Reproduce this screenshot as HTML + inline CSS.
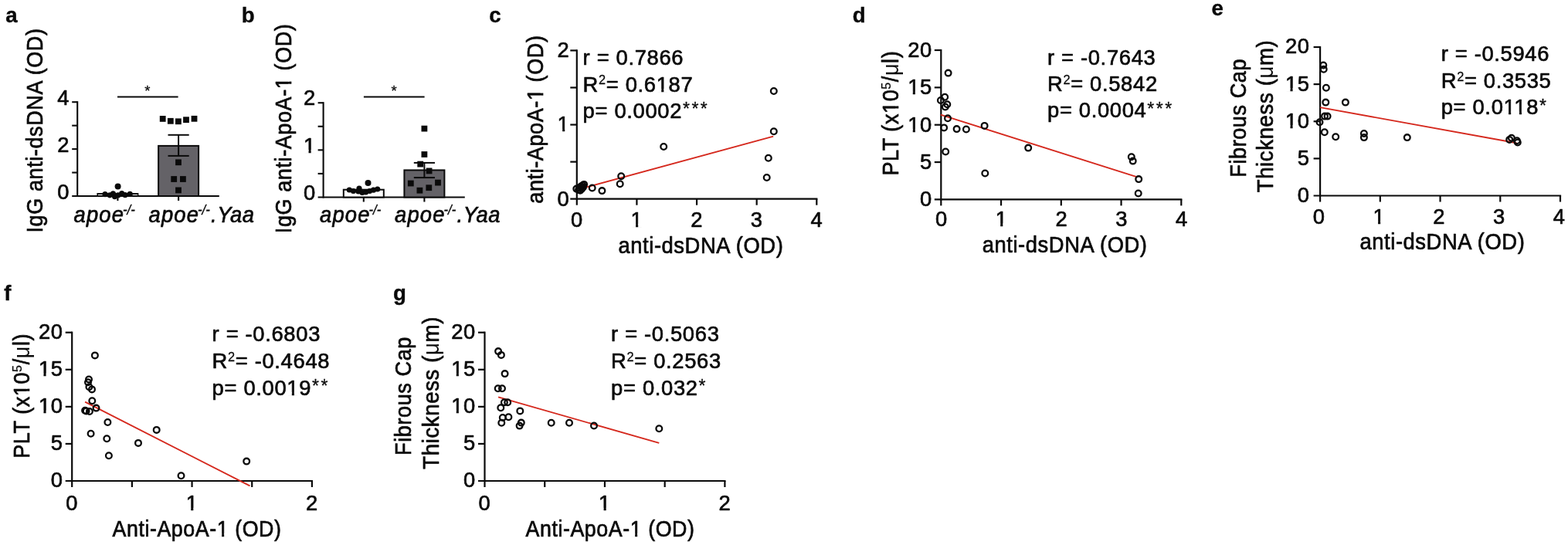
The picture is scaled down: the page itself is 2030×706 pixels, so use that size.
<!DOCTYPE html>
<html lang="en">
<head>
<meta charset="utf-8">
<title>Figure</title>
<style>
html,body{margin:0;padding:0;background:#fff;}
body{width:2030px;height:706px;overflow:hidden;}
svg{display:block;}
svg text{font-family:'Liberation Sans', sans-serif;font-size:28.5px;fill:#0a0a0a;white-space:pre;letter-spacing:0.6px;stroke:#0a0a0a;stroke-width:0.7px;stroke-linejoin:round;}
</style>
</head>
<body>
<svg width="2030" height="706" viewBox="0 0 2030 706">
<rect x="0" y="0" width="2030" height="706" fill="#ffffff"/>
<text transform="translate(7.20 29.20) scale(0.97 0.98)" style="font-weight:bold;letter-spacing:0.0px;stroke-width:0.4px">a</text>
<text transform="translate(312.70 29.20) scale(0.97 0.98)" style="font-weight:bold;letter-spacing:0.0px;stroke-width:0.4px">b</text>
<text transform="translate(633.20 29.00) scale(0.97 0.98)" style="font-weight:bold;letter-spacing:0.0px;stroke-width:0.4px">c</text>
<text transform="translate(1103.70 29.20) scale(0.97 0.98)" style="font-weight:bold;letter-spacing:0.0px;stroke-width:0.4px">d</text>
<text transform="translate(1568.40 20.10) scale(0.97 0.98)" style="font-weight:bold;letter-spacing:0.0px;stroke-width:0.4px">e</text>
<text transform="translate(5.20 388.50) scale(0.97 0.98)" style="font-weight:bold;letter-spacing:0.0px;stroke-width:0.4px">f</text>
<text transform="translate(508.90 388.50) scale(0.97 0.98)" style="font-weight:bold;letter-spacing:0.0px;stroke-width:0.4px">g</text>
<line x1="100.20" y1="131.15" x2="100.20" y2="255.05" stroke="#0a0a0a" stroke-width="2.1"/>
<line x1="93.20" y1="254.00" x2="283.80" y2="254.00" stroke="#0a0a0a" stroke-width="2.1"/>
<line x1="93.20" y1="132.20" x2="100.20" y2="132.20" stroke="#0a0a0a" stroke-width="2.1"/>
<line x1="93.20" y1="162.65" x2="100.20" y2="162.65" stroke="#0a0a0a" stroke-width="2.1"/>
<line x1="93.20" y1="193.10" x2="100.20" y2="193.10" stroke="#0a0a0a" stroke-width="2.1"/>
<line x1="93.20" y1="223.55" x2="100.20" y2="223.55" stroke="#0a0a0a" stroke-width="2.1"/>
<text transform="translate(90.00 135.80) scale(0.96 1.0)" text-anchor="end">4</text>
<text transform="translate(90.00 196.70) scale(0.96 1.0)" text-anchor="end">2</text>
<text transform="translate(90.00 257.60) scale(0.96 1.0)" text-anchor="end">0</text>
<line x1="152.40" y1="254.00" x2="152.40" y2="260.00" stroke="#0a0a0a" stroke-width="2.1"/>
<line x1="231.10" y1="254.00" x2="231.10" y2="260.00" stroke="#0a0a0a" stroke-width="2.1"/>
<rect x="126.40" y="251.00" width="52.0" height="3.00" fill="#fff" stroke="#0a0a0a" stroke-width="2"/>
<rect x="205.10" y="188.90" width="52.0" height="65.10" fill="#646267" stroke="#0a0a0a" stroke-width="2"/>
<line x1="231.10" y1="174.80" x2="231.10" y2="201.90" stroke="#0a0a0a" stroke-width="2"/>
<line x1="217.50" y1="174.80" x2="244.70" y2="174.80" stroke="#0a0a0a" stroke-width="2"/>
<line x1="217.50" y1="201.90" x2="244.70" y2="201.90" stroke="#0a0a0a" stroke-width="2"/>
<circle cx="152.60" cy="241.40" r="4.0" fill="#0a0a0a"/>
<circle cx="136.00" cy="251.60" r="3.6" fill="#0a0a0a"/>
<circle cx="142.10" cy="252.80" r="3.6" fill="#0a0a0a"/>
<circle cx="146.40" cy="250.90" r="3.6" fill="#0a0a0a"/>
<circle cx="148.50" cy="254.60" r="3.6" fill="#0a0a0a"/>
<circle cx="152.80" cy="252.90" r="3.6" fill="#0a0a0a"/>
<circle cx="157.70" cy="250.60" r="3.6" fill="#0a0a0a"/>
<circle cx="162.00" cy="252.60" r="3.6" fill="#0a0a0a"/>
<circle cx="168.20" cy="251.40" r="3.6" fill="#0a0a0a"/>
<rect x="206.80" y="150.00" width="7.8" height="7.8" fill="#0a0a0a"/>
<rect x="216.90" y="152.90" width="7.8" height="7.8" fill="#0a0a0a"/>
<rect x="227.00" y="153.40" width="7.8" height="7.8" fill="#0a0a0a"/>
<rect x="237.10" y="151.30" width="7.8" height="7.8" fill="#0a0a0a"/>
<rect x="247.60" y="149.90" width="7.8" height="7.8" fill="#0a0a0a"/>
<rect x="227.10" y="206.40" width="7.8" height="7.8" fill="#0a0a0a"/>
<rect x="221.30" y="228.10" width="7.8" height="7.8" fill="#0a0a0a"/>
<rect x="233.00" y="228.10" width="7.8" height="7.8" fill="#0a0a0a"/>
<rect x="227.10" y="242.50" width="7.8" height="7.8" fill="#0a0a0a"/>
<line x1="152.00" y1="125.60" x2="230.60" y2="125.60" stroke="#0a0a0a" stroke-width="2"/>
<text transform="translate(190.80 124.00)" text-anchor="middle" style="font-size:18.5px;letter-spacing:0;stroke-width:0.3px">*</text>
<text transform="translate(54.90 301.50) rotate(-90) scale(0.95 1.01)">IgG anti-dsDNA (OD)</text>
<text transform="translate(95.50 288.30) scale(0.96 1.04)" style="font-style:italic"><tspan style="letter-spacing:1.25px">apoe</tspan><tspan dx="-2.3" dy="-10" style="font-size:17.5px;letter-spacing:0;stroke-width:0.4px">-/-</tspan></text>
<text transform="translate(192.50 288.30) scale(0.96 1.04)" style="font-style:italic"><tspan style="letter-spacing:1.25px">apoe</tspan><tspan dx="-2.3" dy="-10" style="font-size:17.5px;letter-spacing:0;stroke-width:0.4px">-/-</tspan><tspan dy="10" dx="1.3">.Yaa</tspan></text>
<line x1="418.60" y1="132.15" x2="418.60" y2="256.55" stroke="#0a0a0a" stroke-width="2.1"/>
<line x1="411.60" y1="255.50" x2="601.80" y2="255.50" stroke="#0a0a0a" stroke-width="2.1"/>
<line x1="411.60" y1="133.20" x2="418.60" y2="133.20" stroke="#0a0a0a" stroke-width="2.1"/>
<line x1="411.60" y1="163.77" x2="418.60" y2="163.77" stroke="#0a0a0a" stroke-width="2.1"/>
<line x1="411.60" y1="194.35" x2="418.60" y2="194.35" stroke="#0a0a0a" stroke-width="2.1"/>
<line x1="411.60" y1="224.93" x2="418.60" y2="224.93" stroke="#0a0a0a" stroke-width="2.1"/>
<text transform="translate(408.80 136.40) scale(0.96 1.0)" text-anchor="end">2</text>
<text transform="translate(408.80 197.55) scale(0.96 1.0)" text-anchor="end">1</text>
<g transform="translate(408.80 197.55) scale(0.96 1.0)" fill="#fff"><rect x="-15.63" y="-3.48" width="5.98" height="4.83"/><rect x="-6.40" y="-3.48" width="5.75" height="4.83"/></g>
<text transform="translate(408.80 258.70) scale(0.96 1.0)" text-anchor="end">0</text>
<line x1="470.80" y1="255.50" x2="470.80" y2="261.50" stroke="#0a0a0a" stroke-width="2.1"/>
<line x1="549.40" y1="255.50" x2="549.40" y2="261.50" stroke="#0a0a0a" stroke-width="2.1"/>
<rect x="444.80" y="245.70" width="52.0" height="9.80" fill="#fff" stroke="#0a0a0a" stroke-width="2"/>
<rect x="523.40" y="220.40" width="52.0" height="35.10" fill="#646267" stroke="#0a0a0a" stroke-width="2"/>
<line x1="549.40" y1="210.90" x2="549.40" y2="230.10" stroke="#0a0a0a" stroke-width="2"/>
<line x1="535.80" y1="210.90" x2="563.00" y2="210.90" stroke="#0a0a0a" stroke-width="2"/>
<line x1="535.80" y1="230.10" x2="563.00" y2="230.10" stroke="#0a0a0a" stroke-width="2"/>
<circle cx="476.50" cy="237.00" r="4.0" fill="#0a0a0a"/>
<circle cx="452.30" cy="246.00" r="3.6" fill="#0a0a0a"/>
<circle cx="457.50" cy="247.50" r="3.6" fill="#0a0a0a"/>
<circle cx="465.00" cy="244.20" r="3.6" fill="#0a0a0a"/>
<circle cx="464.00" cy="248.00" r="3.6" fill="#0a0a0a"/>
<circle cx="469.00" cy="249.50" r="3.6" fill="#0a0a0a"/>
<circle cx="473.50" cy="249.00" r="3.6" fill="#0a0a0a"/>
<circle cx="478.50" cy="247.50" r="3.6" fill="#0a0a0a"/>
<circle cx="483.50" cy="246.20" r="3.6" fill="#0a0a0a"/>
<circle cx="488.70" cy="245.00" r="3.6" fill="#0a0a0a"/>
<rect x="545.50" y="162.70" width="7.8" height="7.8" fill="#0a0a0a"/>
<rect x="545.50" y="196.10" width="7.8" height="7.8" fill="#0a0a0a"/>
<rect x="540.30" y="208.70" width="7.8" height="7.8" fill="#0a0a0a"/>
<rect x="551.70" y="217.50" width="7.8" height="7.8" fill="#0a0a0a"/>
<rect x="527.90" y="233.60" width="7.8" height="7.8" fill="#0a0a0a"/>
<rect x="563.10" y="232.70" width="7.8" height="7.8" fill="#0a0a0a"/>
<rect x="551.40" y="239.30" width="7.8" height="7.8" fill="#0a0a0a"/>
<rect x="539.50" y="242.80" width="7.8" height="7.8" fill="#0a0a0a"/>
<line x1="470.90" y1="125.50" x2="549.60" y2="125.50" stroke="#0a0a0a" stroke-width="2"/>
<text transform="translate(510.00 124.30)" text-anchor="middle" style="font-size:18.5px;letter-spacing:0;stroke-width:0.3px">*</text>
<text transform="translate(376.80 302.20) rotate(-90) scale(0.95 1.01)">IgG anti-ApoA-1 (OD)</text>
<g transform="translate(376.80 302.20) rotate(-90) scale(0.95 1.01)" fill="#fff"><rect x="197.68" y="-3.48" width="5.98" height="4.83"/><rect x="206.92" y="-3.48" width="5.75" height="4.83"/></g>
<text transform="translate(414.00 288.30) scale(0.96 1.04)" style="font-style:italic"><tspan style="letter-spacing:1.25px">apoe</tspan><tspan dx="-2.3" dy="-10" style="font-size:17.5px;letter-spacing:0;stroke-width:0.4px">-/-</tspan></text>
<text transform="translate(511.00 288.30) scale(0.96 1.04)" style="font-style:italic"><tspan style="letter-spacing:1.25px">apoe</tspan><tspan dx="-2.3" dy="-10" style="font-size:17.5px;letter-spacing:0;stroke-width:0.4px">-/-</tspan><tspan dy="10" dx="1.3">.Yaa</tspan></text>
<line x1="746.80" y1="64.30" x2="746.80" y2="258.80" stroke="#0a0a0a" stroke-width="2.2"/>
<line x1="738.30" y1="257.70" x2="1058.40" y2="257.70" stroke="#0a0a0a" stroke-width="2.2"/>
<line x1="738.30" y1="65.40" x2="746.80" y2="65.40" stroke="#0a0a0a" stroke-width="2.2"/>
<line x1="738.30" y1="113.47" x2="746.80" y2="113.47" stroke="#0a0a0a" stroke-width="2.2"/>
<line x1="738.30" y1="161.55" x2="746.80" y2="161.55" stroke="#0a0a0a" stroke-width="2.2"/>
<line x1="738.30" y1="209.62" x2="746.80" y2="209.62" stroke="#0a0a0a" stroke-width="2.2"/>
<line x1="746.80" y1="257.70" x2="746.80" y2="265.70" stroke="#0a0a0a" stroke-width="2.2"/>
<line x1="824.42" y1="257.70" x2="824.42" y2="265.70" stroke="#0a0a0a" stroke-width="2.2"/>
<line x1="902.05" y1="257.70" x2="902.05" y2="265.70" stroke="#0a0a0a" stroke-width="2.2"/>
<line x1="979.67" y1="257.70" x2="979.67" y2="265.70" stroke="#0a0a0a" stroke-width="2.2"/>
<line x1="1057.30" y1="257.70" x2="1057.30" y2="265.70" stroke="#0a0a0a" stroke-width="2.2"/>
<text transform="translate(737.40 74.30) scale(0.96 1.0)" text-anchor="end">2</text>
<text transform="translate(737.40 170.45) scale(0.96 1.0)" text-anchor="end">1</text>
<g transform="translate(737.40 170.45) scale(0.96 1.0)" fill="#fff"><rect x="-15.63" y="-3.48" width="5.98" height="4.83"/><rect x="-6.40" y="-3.48" width="5.75" height="4.83"/></g>
<text transform="translate(737.40 266.60) scale(0.96 1.0)" text-anchor="end">0</text>
<text transform="translate(746.80 293.50) scale(0.96 1.0)" text-anchor="middle">0</text>
<text transform="translate(824.42 293.50) scale(0.96 1.0)" text-anchor="middle">1</text>
<g transform="translate(824.42 293.50) scale(0.96 1.0)" fill="#fff"><rect x="-7.40" y="-3.48" width="5.98" height="4.83"/><rect x="1.83" y="-3.48" width="5.75" height="4.83"/></g>
<text transform="translate(902.05 293.50) scale(0.96 1.0)" text-anchor="middle">2</text>
<text transform="translate(979.67 293.50) scale(0.96 1.0)" text-anchor="middle">3</text>
<text transform="translate(1057.30 293.50) scale(0.96 1.0)" text-anchor="middle">4</text>
<line x1="759.00" y1="242.50" x2="1001.20" y2="176.60" stroke="#d5281d" stroke-width="1.9"/>
<circle cx="1001.80" cy="118.00" r="3.85" fill="none" stroke="#0a0a0a" stroke-width="2.3"/>
<circle cx="1001.80" cy="170.30" r="3.85" fill="none" stroke="#0a0a0a" stroke-width="2.3"/>
<circle cx="859.20" cy="190.00" r="3.85" fill="none" stroke="#0a0a0a" stroke-width="2.3"/>
<circle cx="994.80" cy="204.80" r="3.85" fill="none" stroke="#0a0a0a" stroke-width="2.3"/>
<circle cx="992.70" cy="230.00" r="3.85" fill="none" stroke="#0a0a0a" stroke-width="2.3"/>
<circle cx="804.20" cy="228.30" r="3.85" fill="none" stroke="#0a0a0a" stroke-width="2.3"/>
<circle cx="802.70" cy="238.30" r="3.85" fill="none" stroke="#0a0a0a" stroke-width="2.3"/>
<circle cx="766.70" cy="243.50" r="3.85" fill="none" stroke="#0a0a0a" stroke-width="2.3"/>
<circle cx="779.40" cy="247.10" r="3.85" fill="none" stroke="#0a0a0a" stroke-width="2.3"/>
<circle cx="746.30" cy="244.60" r="3.85" fill="none" stroke="#0a0a0a" stroke-width="2.3"/>
<circle cx="750.10" cy="243.50" r="3.85" fill="none" stroke="#0a0a0a" stroke-width="2.3"/>
<circle cx="752.20" cy="241.40" r="3.85" fill="none" stroke="#0a0a0a" stroke-width="2.3"/>
<circle cx="754.40" cy="240.00" r="3.85" fill="none" stroke="#0a0a0a" stroke-width="2.3"/>
<circle cx="756.10" cy="238.90" r="3.85" fill="none" stroke="#0a0a0a" stroke-width="2.3"/>
<circle cx="751.20" cy="246.70" r="3.85" fill="none" stroke="#0a0a0a" stroke-width="2.3"/>
<circle cx="753.30" cy="244.60" r="3.85" fill="none" stroke="#0a0a0a" stroke-width="2.3"/>
<circle cx="755.00" cy="242.50" r="3.85" fill="none" stroke="#0a0a0a" stroke-width="2.3"/>
<circle cx="749.00" cy="246.00" r="3.85" fill="none" stroke="#0a0a0a" stroke-width="2.3"/>
<text transform="translate(754.60 83.50) scale(0.96 1.0)" style="letter-spacing:0.7px">r = 0.7866</text>
<text transform="translate(754.60 118.50) scale(0.96 1.0)" style="letter-spacing:0.7px">R<tspan dy="-9.5" style="font-size:17.0px;stroke-width:0.25px">2</tspan><tspan dy="9.5">= 0.6187</tspan></text>
<g transform="translate(754.60 118.50) scale(0.96 1.0)" fill="#fff"><rect x="99.89" y="-3.48" width="5.98" height="4.83"/><rect x="109.12" y="-3.48" width="5.75" height="4.83"/></g>
<text transform="translate(754.60 152.90) scale(0.96 1.0)" style="letter-spacing:0.7px">p= 0.0002<tspan dx="0.9" dy="-3.5" style="font-size:24px;letter-spacing:2.6px;stroke-width:0.3px">***</tspan></text>
<text transform="translate(907.40 327.70) scale(0.96 1.04)" text-anchor="middle">anti-dsDNA (OD)</text>
<text transform="translate(703.30 263.70) rotate(-90) scale(0.95 1.01)">anti-ApoA-1 (OD)</text>
<g transform="translate(703.30 263.70) rotate(-90) scale(0.95 1.01)" fill="#fff"><rect x="141.44" y="-3.48" width="5.98" height="4.83"/><rect x="150.68" y="-3.48" width="5.75" height="4.83"/></g>
<line x1="1218.30" y1="63.90" x2="1218.30" y2="259.50" stroke="#0a0a0a" stroke-width="2.2"/>
<line x1="1209.80" y1="258.40" x2="1530.40" y2="258.40" stroke="#0a0a0a" stroke-width="2.2"/>
<line x1="1209.80" y1="65.00" x2="1218.30" y2="65.00" stroke="#0a0a0a" stroke-width="2.2"/>
<line x1="1209.80" y1="113.35" x2="1218.30" y2="113.35" stroke="#0a0a0a" stroke-width="2.2"/>
<line x1="1209.80" y1="161.70" x2="1218.30" y2="161.70" stroke="#0a0a0a" stroke-width="2.2"/>
<line x1="1209.80" y1="210.05" x2="1218.30" y2="210.05" stroke="#0a0a0a" stroke-width="2.2"/>
<line x1="1218.30" y1="258.40" x2="1218.30" y2="266.40" stroke="#0a0a0a" stroke-width="2.2"/>
<line x1="1296.05" y1="258.40" x2="1296.05" y2="266.40" stroke="#0a0a0a" stroke-width="2.2"/>
<line x1="1373.80" y1="258.40" x2="1373.80" y2="266.40" stroke="#0a0a0a" stroke-width="2.2"/>
<line x1="1451.55" y1="258.40" x2="1451.55" y2="266.40" stroke="#0a0a0a" stroke-width="2.2"/>
<line x1="1529.30" y1="258.40" x2="1529.30" y2="266.40" stroke="#0a0a0a" stroke-width="2.2"/>
<text transform="translate(1206.80 73.90) scale(0.96 1.0)" text-anchor="end">20</text>
<text transform="translate(1206.80 122.25) scale(0.96 1.0)" text-anchor="end">15</text>
<g transform="translate(1206.80 122.25) scale(0.96 1.0)" fill="#fff"><rect x="-32.06" y="-3.48" width="5.98" height="4.83"/><rect x="-22.83" y="-3.48" width="5.75" height="4.83"/></g>
<text transform="translate(1206.80 170.60) scale(0.96 1.0)" text-anchor="end">10</text>
<g transform="translate(1206.80 170.60) scale(0.96 1.0)" fill="#fff"><rect x="-32.06" y="-3.48" width="5.98" height="4.83"/><rect x="-22.83" y="-3.48" width="5.75" height="4.83"/></g>
<text transform="translate(1206.80 218.95) scale(0.96 1.0)" text-anchor="end">5</text>
<text transform="translate(1206.80 267.30) scale(0.96 1.0)" text-anchor="end">0</text>
<text transform="translate(1218.80 293.00) scale(0.96 1.0)" text-anchor="middle">0</text>
<text transform="translate(1296.55 293.00) scale(0.96 1.0)" text-anchor="middle">1</text>
<g transform="translate(1296.55 293.00) scale(0.96 1.0)" fill="#fff"><rect x="-7.40" y="-3.48" width="5.98" height="4.83"/><rect x="1.83" y="-3.48" width="5.75" height="4.83"/></g>
<text transform="translate(1374.30 293.00) scale(0.96 1.0)" text-anchor="middle">2</text>
<text transform="translate(1452.05 293.00) scale(0.96 1.0)" text-anchor="middle">3</text>
<text transform="translate(1529.80 293.00) scale(0.96 1.0)" text-anchor="middle">4</text>
<line x1="1217.90" y1="148.70" x2="1471.60" y2="229.10" stroke="#d5281d" stroke-width="1.9"/>
<circle cx="1227.60" cy="94.60" r="3.85" fill="none" stroke="#0a0a0a" stroke-width="2.3"/>
<circle cx="1223.20" cy="125.80" r="3.85" fill="none" stroke="#0a0a0a" stroke-width="2.3"/>
<circle cx="1217.90" cy="130.00" r="3.85" fill="none" stroke="#0a0a0a" stroke-width="2.3"/>
<circle cx="1226.30" cy="135.30" r="3.85" fill="none" stroke="#0a0a0a" stroke-width="2.3"/>
<circle cx="1223.80" cy="138.50" r="3.85" fill="none" stroke="#0a0a0a" stroke-width="2.3"/>
<circle cx="1227.00" cy="153.30" r="3.85" fill="none" stroke="#0a0a0a" stroke-width="2.3"/>
<circle cx="1222.10" cy="165.40" r="3.85" fill="none" stroke="#0a0a0a" stroke-width="2.3"/>
<circle cx="1238.60" cy="167.10" r="3.85" fill="none" stroke="#0a0a0a" stroke-width="2.3"/>
<circle cx="1250.90" cy="167.50" r="3.85" fill="none" stroke="#0a0a0a" stroke-width="2.3"/>
<circle cx="1274.60" cy="162.90" r="3.85" fill="none" stroke="#0a0a0a" stroke-width="2.3"/>
<circle cx="1224.20" cy="196.50" r="3.85" fill="none" stroke="#0a0a0a" stroke-width="2.3"/>
<circle cx="1275.30" cy="224.50" r="3.85" fill="none" stroke="#0a0a0a" stroke-width="2.3"/>
<circle cx="1331.20" cy="191.60" r="3.85" fill="none" stroke="#0a0a0a" stroke-width="2.3"/>
<circle cx="1464.80" cy="203.30" r="3.85" fill="none" stroke="#0a0a0a" stroke-width="2.3"/>
<circle cx="1466.70" cy="208.60" r="3.85" fill="none" stroke="#0a0a0a" stroke-width="2.3"/>
<circle cx="1474.20" cy="232.10" r="3.85" fill="none" stroke="#0a0a0a" stroke-width="2.3"/>
<circle cx="1473.70" cy="250.50" r="3.85" fill="none" stroke="#0a0a0a" stroke-width="2.3"/>
<text transform="translate(1356.00 83.50) scale(0.96 1.0)" style="letter-spacing:0.7px">r = -0.7643</text>
<text transform="translate(1356.00 118.40) scale(0.96 1.0)" style="letter-spacing:0.7px">R<tspan dy="-9.5" style="font-size:17.0px;stroke-width:0.25px">2</tspan><tspan dy="9.5">= 0.5842</tspan></text>
<text transform="translate(1356.00 152.30) scale(0.96 1.0)" style="letter-spacing:0.7px">p= 0.0004<tspan dx="0.9" dy="-3.5" style="font-size:24px;letter-spacing:2.6px;stroke-width:0.3px">***</tspan></text>
<text transform="translate(1378.60 327.20) scale(0.96 1.04)" text-anchor="middle">anti-dsDNA (OD)</text>
<text transform="translate(1163.00 227.60) rotate(-90) scale(0.95 1.01)">PLT (x10<tspan dy="-9.5" style="font-size:17.0px;stroke-width:0.25px">5</tspan><tspan dy="9.5">/<tspan style="stroke-width:0">μ</tspan>l)</tspan></text>
<g transform="translate(1163.00 227.60) rotate(-90) scale(0.95 1.01)" fill="#fff"><rect x="85.70" y="-3.48" width="5.98" height="4.83"/><rect x="94.93" y="-3.48" width="5.75" height="4.83"/></g>
<line x1="1709.10" y1="59.90" x2="1709.10" y2="254.60" stroke="#0a0a0a" stroke-width="2.2"/>
<line x1="1700.60" y1="253.50" x2="2021.10" y2="253.50" stroke="#0a0a0a" stroke-width="2.2"/>
<line x1="1700.60" y1="61.00" x2="1709.10" y2="61.00" stroke="#0a0a0a" stroke-width="2.2"/>
<line x1="1700.60" y1="109.12" x2="1709.10" y2="109.12" stroke="#0a0a0a" stroke-width="2.2"/>
<line x1="1700.60" y1="157.25" x2="1709.10" y2="157.25" stroke="#0a0a0a" stroke-width="2.2"/>
<line x1="1700.60" y1="205.38" x2="1709.10" y2="205.38" stroke="#0a0a0a" stroke-width="2.2"/>
<line x1="1709.10" y1="253.50" x2="1709.10" y2="261.50" stroke="#0a0a0a" stroke-width="2.2"/>
<line x1="1786.82" y1="253.50" x2="1786.82" y2="261.50" stroke="#0a0a0a" stroke-width="2.2"/>
<line x1="1864.55" y1="253.50" x2="1864.55" y2="261.50" stroke="#0a0a0a" stroke-width="2.2"/>
<line x1="1942.28" y1="253.50" x2="1942.28" y2="261.50" stroke="#0a0a0a" stroke-width="2.2"/>
<line x1="2020.00" y1="253.50" x2="2020.00" y2="261.50" stroke="#0a0a0a" stroke-width="2.2"/>
<text transform="translate(1695.50 69.40) scale(0.96 1.0)" text-anchor="end">20</text>
<text transform="translate(1695.50 117.53) scale(0.96 1.0)" text-anchor="end">15</text>
<g transform="translate(1695.50 117.53) scale(0.96 1.0)" fill="#fff"><rect x="-32.06" y="-3.48" width="5.98" height="4.83"/><rect x="-22.83" y="-3.48" width="5.75" height="4.83"/></g>
<text transform="translate(1695.50 165.65) scale(0.96 1.0)" text-anchor="end">10</text>
<g transform="translate(1695.50 165.65) scale(0.96 1.0)" fill="#fff"><rect x="-32.06" y="-3.48" width="5.98" height="4.83"/><rect x="-22.83" y="-3.48" width="5.75" height="4.83"/></g>
<text transform="translate(1695.50 213.78) scale(0.96 1.0)" text-anchor="end">5</text>
<text transform="translate(1695.50 261.90) scale(0.96 1.0)" text-anchor="end">0</text>
<text transform="translate(1707.70 290.00) scale(0.96 1.0)" text-anchor="middle">0</text>
<text transform="translate(1785.42 290.00) scale(0.96 1.0)" text-anchor="middle">1</text>
<g transform="translate(1785.42 290.00) scale(0.96 1.0)" fill="#fff"><rect x="-7.40" y="-3.48" width="5.98" height="4.83"/><rect x="1.83" y="-3.48" width="5.75" height="4.83"/></g>
<text transform="translate(1863.15 290.00) scale(0.96 1.0)" text-anchor="middle">2</text>
<text transform="translate(1940.88 290.00) scale(0.96 1.0)" text-anchor="middle">3</text>
<text transform="translate(2018.60 290.00) scale(0.96 1.0)" text-anchor="middle">4</text>
<line x1="1709.10" y1="139.10" x2="1963.30" y2="185.30" stroke="#d5281d" stroke-width="1.9"/>
<circle cx="1713.30" cy="84.50" r="3.85" fill="none" stroke="#0a0a0a" stroke-width="2.3"/>
<circle cx="1713.70" cy="89.80" r="3.85" fill="none" stroke="#0a0a0a" stroke-width="2.3"/>
<circle cx="1716.90" cy="113.70" r="3.85" fill="none" stroke="#0a0a0a" stroke-width="2.3"/>
<circle cx="1716.30" cy="132.60" r="3.85" fill="none" stroke="#0a0a0a" stroke-width="2.3"/>
<circle cx="1741.90" cy="132.60" r="3.85" fill="none" stroke="#0a0a0a" stroke-width="2.3"/>
<circle cx="1715.00" cy="150.60" r="3.85" fill="none" stroke="#0a0a0a" stroke-width="2.3"/>
<circle cx="1718.60" cy="150.60" r="3.85" fill="none" stroke="#0a0a0a" stroke-width="2.3"/>
<circle cx="1708.50" cy="158.20" r="3.85" fill="none" stroke="#0a0a0a" stroke-width="2.3"/>
<circle cx="1714.80" cy="171.30" r="3.85" fill="none" stroke="#0a0a0a" stroke-width="2.3"/>
<circle cx="1729.20" cy="177.30" r="3.85" fill="none" stroke="#0a0a0a" stroke-width="2.3"/>
<circle cx="1765.90" cy="173.00" r="3.85" fill="none" stroke="#0a0a0a" stroke-width="2.3"/>
<circle cx="1765.90" cy="178.10" r="3.85" fill="none" stroke="#0a0a0a" stroke-width="2.3"/>
<circle cx="1821.80" cy="178.10" r="3.85" fill="none" stroke="#0a0a0a" stroke-width="2.3"/>
<circle cx="1956.90" cy="178.70" r="3.85" fill="none" stroke="#0a0a0a" stroke-width="2.3"/>
<circle cx="1954.20" cy="180.90" r="3.85" fill="none" stroke="#0a0a0a" stroke-width="2.3"/>
<circle cx="1963.90" cy="182.30" r="3.85" fill="none" stroke="#0a0a0a" stroke-width="2.3"/>
<circle cx="1964.80" cy="184.50" r="3.85" fill="none" stroke="#0a0a0a" stroke-width="2.3"/>
<text transform="translate(1865.70 79.20) scale(0.96 1.0)" style="letter-spacing:0.7px">r = -0.5946</text>
<text transform="translate(1865.70 114.20) scale(0.96 1.0)" style="letter-spacing:0.7px">R<tspan dy="-9.5" style="font-size:17.0px;stroke-width:0.25px">2</tspan><tspan dy="9.5">= 0.3535</tspan></text>
<text transform="translate(1865.70 148.10) scale(0.96 1.0)" style="letter-spacing:0.7px">p= 0.0118<tspan dx="0.9" dy="-3.5" style="font-size:24px;letter-spacing:2.6px;stroke-width:0.3px">*</tspan></text>
<g transform="translate(1865.70 148.10) scale(0.96 1.0)" fill="#fff"><rect x="85.00" y="-3.48" width="5.98" height="4.83"/><rect x="94.24" y="-3.48" width="5.75" height="4.83"/><rect x="99.43" y="-3.48" width="5.98" height="4.83"/><rect x="108.66" y="-3.48" width="5.75" height="4.83"/></g>
<text transform="translate(1867.40 322.50) scale(0.96 1.04)" text-anchor="middle">anti-dsDNA (OD)</text>
<text transform="translate(1613.00 152.80) rotate(-90) scale(0.951 1.01)" text-anchor="middle">Fibrous Cap</text>
<text transform="translate(1648.40 249.30) rotate(-90) scale(0.97 1.01)">Thickness (<tspan style="stroke-width:0">μ</tspan>m)</text>
<line x1="93.20" y1="429.60" x2="93.20" y2="624.10" stroke="#0a0a0a" stroke-width="2.2"/>
<line x1="84.70" y1="623.00" x2="405.00" y2="623.00" stroke="#0a0a0a" stroke-width="2.2"/>
<line x1="84.70" y1="430.70" x2="93.20" y2="430.70" stroke="#0a0a0a" stroke-width="2.2"/>
<line x1="84.70" y1="478.77" x2="93.20" y2="478.77" stroke="#0a0a0a" stroke-width="2.2"/>
<line x1="84.70" y1="526.85" x2="93.20" y2="526.85" stroke="#0a0a0a" stroke-width="2.2"/>
<line x1="84.70" y1="574.92" x2="93.20" y2="574.92" stroke="#0a0a0a" stroke-width="2.2"/>
<line x1="93.20" y1="623.00" x2="93.20" y2="631.00" stroke="#0a0a0a" stroke-width="2.2"/>
<line x1="170.88" y1="623.00" x2="170.88" y2="631.00" stroke="#0a0a0a" stroke-width="2.2"/>
<line x1="248.55" y1="623.00" x2="248.55" y2="631.00" stroke="#0a0a0a" stroke-width="2.2"/>
<line x1="326.22" y1="623.00" x2="326.22" y2="631.00" stroke="#0a0a0a" stroke-width="2.2"/>
<line x1="403.90" y1="623.00" x2="403.90" y2="631.00" stroke="#0a0a0a" stroke-width="2.2"/>
<text transform="translate(81.50 439.10) scale(0.96 1.0)" text-anchor="end">20</text>
<text transform="translate(81.50 487.17) scale(0.96 1.0)" text-anchor="end">15</text>
<g transform="translate(81.50 487.17) scale(0.96 1.0)" fill="#fff"><rect x="-32.06" y="-3.48" width="5.98" height="4.83"/><rect x="-22.83" y="-3.48" width="5.75" height="4.83"/></g>
<text transform="translate(81.50 535.25) scale(0.96 1.0)" text-anchor="end">10</text>
<g transform="translate(81.50 535.25) scale(0.96 1.0)" fill="#fff"><rect x="-32.06" y="-3.48" width="5.98" height="4.83"/><rect x="-22.83" y="-3.48" width="5.75" height="4.83"/></g>
<text transform="translate(81.50 583.32) scale(0.96 1.0)" text-anchor="end">5</text>
<text transform="translate(81.50 631.40) scale(0.96 1.0)" text-anchor="end">0</text>
<text transform="translate(93.20 661.40) scale(0.96 1.0)" text-anchor="middle">0</text>
<text transform="translate(248.55 661.40) scale(0.96 1.0)" text-anchor="middle">1</text>
<g transform="translate(248.55 661.40) scale(0.96 1.0)" fill="#fff"><rect x="-7.40" y="-3.48" width="5.98" height="4.83"/><rect x="1.83" y="-3.48" width="5.75" height="4.83"/></g>
<text transform="translate(403.90 661.40) scale(0.96 1.0)" text-anchor="middle">2</text>
<line x1="110.10" y1="520.70" x2="323.50" y2="629.40" stroke="#d5281d" stroke-width="1.9"/>
<circle cx="122.90" cy="460.40" r="3.85" fill="none" stroke="#0a0a0a" stroke-width="2.3"/>
<circle cx="115.00" cy="491.50" r="3.85" fill="none" stroke="#0a0a0a" stroke-width="2.3"/>
<circle cx="114.00" cy="495.30" r="3.85" fill="none" stroke="#0a0a0a" stroke-width="2.3"/>
<circle cx="115.40" cy="501.20" r="3.85" fill="none" stroke="#0a0a0a" stroke-width="2.3"/>
<circle cx="119.00" cy="504.40" r="3.85" fill="none" stroke="#0a0a0a" stroke-width="2.3"/>
<circle cx="119.30" cy="519.30" r="3.85" fill="none" stroke="#0a0a0a" stroke-width="2.3"/>
<circle cx="124.50" cy="528.60" r="3.85" fill="none" stroke="#0a0a0a" stroke-width="2.3"/>
<circle cx="110.10" cy="531.80" r="3.85" fill="none" stroke="#0a0a0a" stroke-width="2.3"/>
<circle cx="111.60" cy="532.40" r="3.85" fill="none" stroke="#0a0a0a" stroke-width="2.3"/>
<circle cx="115.90" cy="533.00" r="3.85" fill="none" stroke="#0a0a0a" stroke-width="2.3"/>
<circle cx="139.40" cy="547.00" r="3.85" fill="none" stroke="#0a0a0a" stroke-width="2.3"/>
<circle cx="117.60" cy="561.80" r="3.85" fill="none" stroke="#0a0a0a" stroke-width="2.3"/>
<circle cx="138.30" cy="568.20" r="3.85" fill="none" stroke="#0a0a0a" stroke-width="2.3"/>
<circle cx="140.90" cy="590.20" r="3.85" fill="none" stroke="#0a0a0a" stroke-width="2.3"/>
<circle cx="179.00" cy="573.90" r="3.85" fill="none" stroke="#0a0a0a" stroke-width="2.3"/>
<circle cx="202.70" cy="556.90" r="3.85" fill="none" stroke="#0a0a0a" stroke-width="2.3"/>
<circle cx="234.50" cy="616.30" r="3.85" fill="none" stroke="#0a0a0a" stroke-width="2.3"/>
<circle cx="319.20" cy="597.60" r="3.85" fill="none" stroke="#0a0a0a" stroke-width="2.3"/>
<text transform="translate(274.60 442.00) scale(0.96 1.0)" style="letter-spacing:0.7px">r = -0.6803</text>
<text transform="translate(274.60 477.00) scale(0.96 1.0)" style="letter-spacing:0.7px">R<tspan dy="-9.5" style="font-size:17.0px;stroke-width:0.25px">2</tspan><tspan dy="9.5">= -0.4648</tspan></text>
<text transform="translate(274.60 511.50) scale(0.96 1.0)" style="letter-spacing:0.7px">p= 0.0019<tspan dx="0.9" dy="-3.5" style="font-size:24px;letter-spacing:2.6px;stroke-width:0.3px">**</tspan></text>
<g transform="translate(274.60 511.50) scale(0.96 1.0)" fill="#fff"><rect x="101.55" y="-3.48" width="5.98" height="4.83"/><rect x="110.78" y="-3.48" width="5.75" height="4.83"/></g>
<text transform="translate(255.00 694.50) scale(0.94 1.04)" text-anchor="middle">Anti-ApoA-1 (OD)</text>
<g transform="translate(255.00 694.50) scale(0.94 1.04)" fill="#fff"><rect x="28.17" y="-3.48" width="5.98" height="4.83"/><rect x="37.40" y="-3.48" width="5.75" height="4.83"/></g>
<text transform="translate(37.80 593.80) rotate(-90) scale(0.95 1.01)">PLT (x10<tspan dy="-9.5" style="font-size:17.0px;stroke-width:0.25px">5</tspan><tspan dy="9.5">/<tspan style="stroke-width:0">μ</tspan>l)</tspan></text>
<g transform="translate(37.80 593.80) rotate(-90) scale(0.95 1.01)" fill="#fff"><rect x="85.70" y="-3.48" width="5.98" height="4.83"/><rect x="94.93" y="-3.48" width="5.75" height="4.83"/></g>
<line x1="627.50" y1="429.60" x2="627.50" y2="624.10" stroke="#0a0a0a" stroke-width="2.2"/>
<line x1="619.00" y1="623.00" x2="939.50" y2="623.00" stroke="#0a0a0a" stroke-width="2.2"/>
<line x1="619.00" y1="430.70" x2="627.50" y2="430.70" stroke="#0a0a0a" stroke-width="2.2"/>
<line x1="619.00" y1="478.77" x2="627.50" y2="478.77" stroke="#0a0a0a" stroke-width="2.2"/>
<line x1="619.00" y1="526.85" x2="627.50" y2="526.85" stroke="#0a0a0a" stroke-width="2.2"/>
<line x1="619.00" y1="574.92" x2="627.50" y2="574.92" stroke="#0a0a0a" stroke-width="2.2"/>
<line x1="627.50" y1="623.00" x2="627.50" y2="631.00" stroke="#0a0a0a" stroke-width="2.2"/>
<line x1="705.23" y1="623.00" x2="705.23" y2="631.00" stroke="#0a0a0a" stroke-width="2.2"/>
<line x1="782.95" y1="623.00" x2="782.95" y2="631.00" stroke="#0a0a0a" stroke-width="2.2"/>
<line x1="860.67" y1="623.00" x2="860.67" y2="631.00" stroke="#0a0a0a" stroke-width="2.2"/>
<line x1="938.40" y1="623.00" x2="938.40" y2="631.00" stroke="#0a0a0a" stroke-width="2.2"/>
<text transform="translate(615.80 439.10) scale(0.96 1.0)" text-anchor="end">20</text>
<text transform="translate(615.80 487.17) scale(0.96 1.0)" text-anchor="end">15</text>
<g transform="translate(615.80 487.17) scale(0.96 1.0)" fill="#fff"><rect x="-32.06" y="-3.48" width="5.98" height="4.83"/><rect x="-22.83" y="-3.48" width="5.75" height="4.83"/></g>
<text transform="translate(615.80 535.25) scale(0.96 1.0)" text-anchor="end">10</text>
<g transform="translate(615.80 535.25) scale(0.96 1.0)" fill="#fff"><rect x="-32.06" y="-3.48" width="5.98" height="4.83"/><rect x="-22.83" y="-3.48" width="5.75" height="4.83"/></g>
<text transform="translate(615.80 583.32) scale(0.96 1.0)" text-anchor="end">5</text>
<text transform="translate(615.80 631.40) scale(0.96 1.0)" text-anchor="end">0</text>
<text transform="translate(627.50 661.40) scale(0.96 1.0)" text-anchor="middle">0</text>
<text transform="translate(782.95 661.40) scale(0.96 1.0)" text-anchor="middle">1</text>
<g transform="translate(782.95 661.40) scale(0.96 1.0)" fill="#fff"><rect x="-7.40" y="-3.48" width="5.98" height="4.83"/><rect x="1.83" y="-3.48" width="5.75" height="4.83"/></g>
<text transform="translate(938.40 661.40) scale(0.96 1.0)" text-anchor="middle">2</text>
<line x1="645.10" y1="514.40" x2="853.30" y2="573.90" stroke="#d5281d" stroke-width="1.9"/>
<circle cx="645.10" cy="455.10" r="3.85" fill="none" stroke="#0a0a0a" stroke-width="2.3"/>
<circle cx="648.90" cy="459.90" r="3.85" fill="none" stroke="#0a0a0a" stroke-width="2.3"/>
<circle cx="653.60" cy="484.10" r="3.85" fill="none" stroke="#0a0a0a" stroke-width="2.3"/>
<circle cx="644.70" cy="503.20" r="3.85" fill="none" stroke="#0a0a0a" stroke-width="2.3"/>
<circle cx="650.00" cy="503.20" r="3.85" fill="none" stroke="#0a0a0a" stroke-width="2.3"/>
<circle cx="652.90" cy="521.20" r="3.85" fill="none" stroke="#0a0a0a" stroke-width="2.3"/>
<circle cx="657.20" cy="521.20" r="3.85" fill="none" stroke="#0a0a0a" stroke-width="2.3"/>
<circle cx="648.30" cy="528.20" r="3.85" fill="none" stroke="#0a0a0a" stroke-width="2.3"/>
<circle cx="673.30" cy="532.40" r="3.85" fill="none" stroke="#0a0a0a" stroke-width="2.3"/>
<circle cx="658.40" cy="540.30" r="3.85" fill="none" stroke="#0a0a0a" stroke-width="2.3"/>
<circle cx="650.80" cy="541.00" r="3.85" fill="none" stroke="#0a0a0a" stroke-width="2.3"/>
<circle cx="649.30" cy="547.80" r="3.85" fill="none" stroke="#0a0a0a" stroke-width="2.3"/>
<circle cx="674.80" cy="547.60" r="3.85" fill="none" stroke="#0a0a0a" stroke-width="2.3"/>
<circle cx="672.60" cy="551.60" r="3.85" fill="none" stroke="#0a0a0a" stroke-width="2.3"/>
<circle cx="713.70" cy="547.80" r="3.85" fill="none" stroke="#0a0a0a" stroke-width="2.3"/>
<circle cx="737.00" cy="547.80" r="3.85" fill="none" stroke="#0a0a0a" stroke-width="2.3"/>
<circle cx="769.00" cy="551.50" r="3.85" fill="none" stroke="#0a0a0a" stroke-width="2.3"/>
<circle cx="853.30" cy="555.30" r="3.85" fill="none" stroke="#0a0a0a" stroke-width="2.3"/>
<text transform="translate(791.10 442.00) scale(0.96 1.0)" style="letter-spacing:0.7px">r = -0.5063</text>
<text transform="translate(791.10 477.00) scale(0.96 1.0)" style="letter-spacing:0.7px">R<tspan dy="-9.5" style="font-size:17.0px;stroke-width:0.25px">2</tspan><tspan dy="9.5">= 0.2563</tspan></text>
<text transform="translate(791.10 511.50) scale(0.96 1.0)" style="letter-spacing:0.7px">p= 0.032<tspan dx="0.9" dy="-3.5" style="font-size:24px;letter-spacing:2.6px;stroke-width:0.3px">*</tspan></text>
<text transform="translate(790.00 694.50) scale(0.94 1.04)" text-anchor="middle">Anti-ApoA-1 (OD)</text>
<g transform="translate(790.00 694.50) scale(0.94 1.04)" fill="#fff"><rect x="28.17" y="-3.48" width="5.98" height="4.83"/><rect x="37.40" y="-3.48" width="5.75" height="4.83"/></g>
<text transform="translate(532.00 513.00) rotate(-90) scale(0.951 1.01)" text-anchor="middle">Fibrous Cap</text>
<text transform="translate(567.50 607.70) rotate(-90) scale(0.97 1.01)">Thickness (<tspan style="stroke-width:0">μ</tspan>m)</text>
</svg>
</body>
</html>
